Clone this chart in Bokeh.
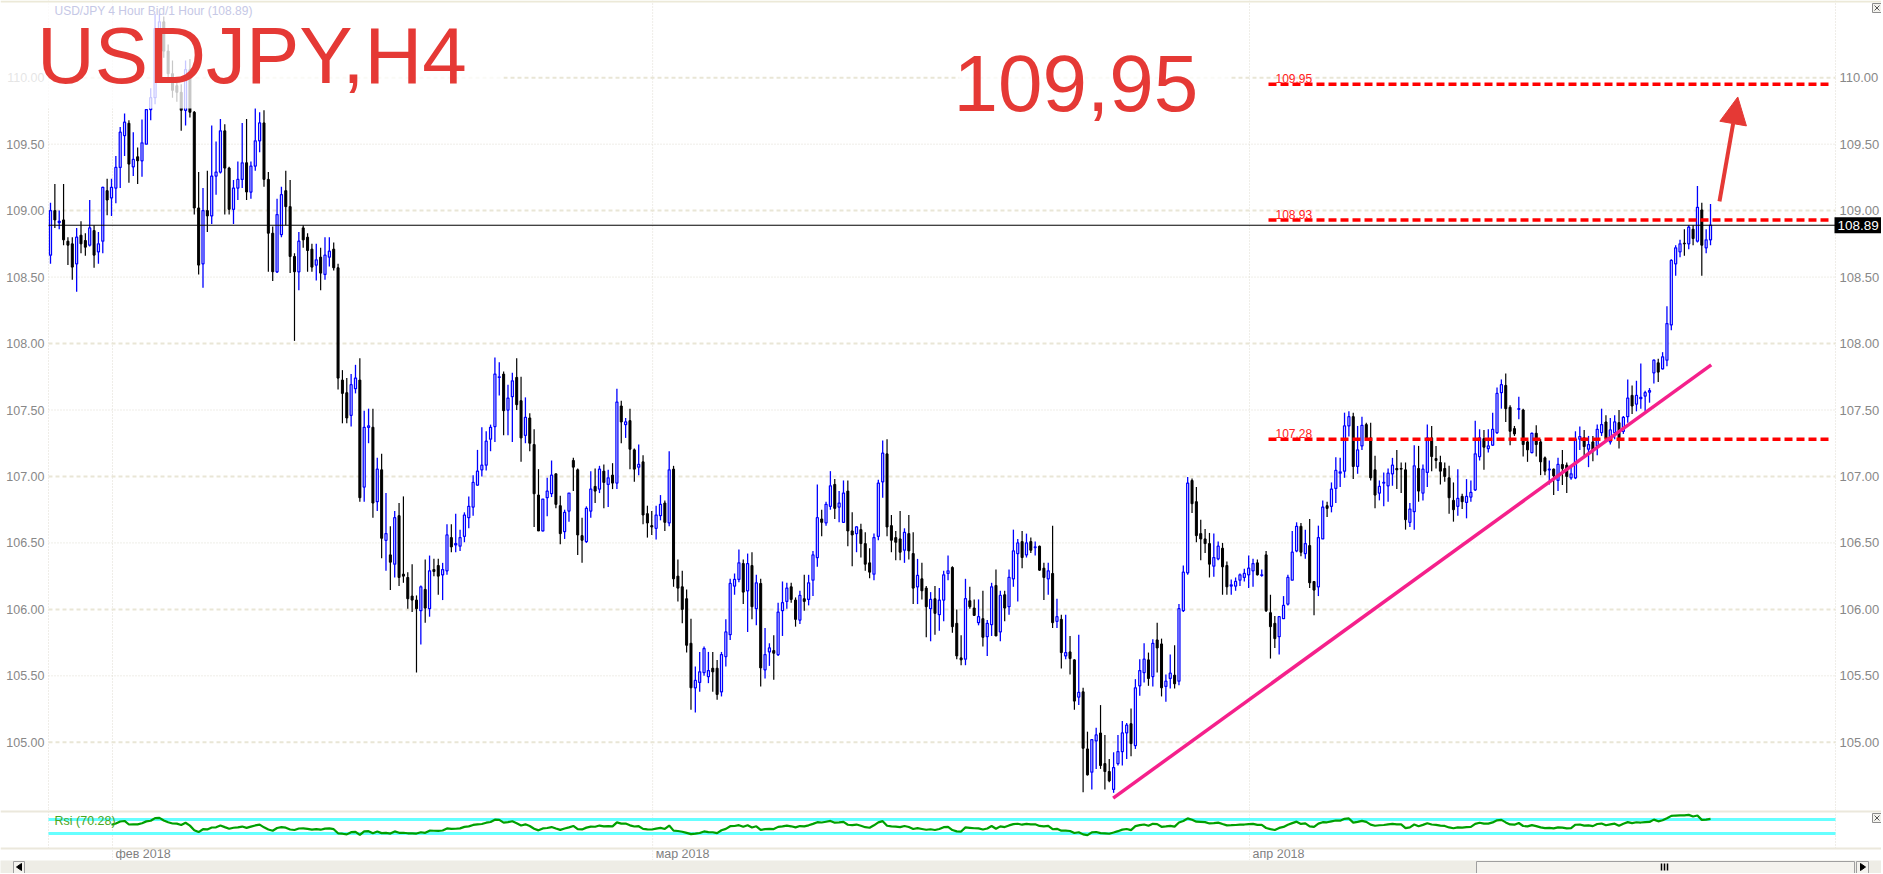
import numpy as np
from bokeh.core.properties import value
from bokeh.embed import file_html
from bokeh.layouts import column
from bokeh.models import (Arrow, ColumnDataSource, Grid, Label, NormalHead, Range1d, Span)
from bokeh.plotting import figure
from bokeh.resources import INLINE

# USDJPY 4H candles, 29 Jan - 24 Apr 2018
open_ = [
    108.665, 109.00, 108.91, 108.93, 108.77, 108.75, 108.60, 108.815, 108.775, 108.74,
    108.85, 108.69, 108.77, 109.15, 109.095, 109.17, 109.325, 109.565, 109.657, 109.33,
    109.405, 109.375, 109.50, 109.76, 109.85, 110.37, 110.42, 110.20, 110.03, 109.94,
    109.89, 109.755, 110.06, 109.74, 109.02, 108.60, 109.00, 108.96, 109.26, 109.29,
    109.60, 109.32, 109.01, 109.17, 109.235, 109.36, 109.14, 109.335, 109.525, 109.66,
    109.235, 108.83, 108.54, 108.82, 109.15, 109.03, 108.655, 108.54, 108.87, 108.80,
    108.71, 108.59, 108.65, 108.52, 108.65, 108.71, 108.57, 107.725, 107.63, 107.46,
    107.66, 107.725, 106.92, 107.37, 107.37, 106.81, 107.05, 106.52, 106.41, 106.34,
    106.705, 106.265, 106.24, 106.10, 106.07, 105.99, 106.15, 106.005, 106.30, 106.33,
    106.26, 106.29, 106.54, 106.485, 106.475, 106.55, 106.69, 106.77, 106.935, 107.05,
    107.085, 107.28, 107.375, 107.745, 107.77, 107.50, 107.60, 107.745, 107.57, 107.31,
    107.44, 107.24, 106.86, 106.59, 106.84, 106.87, 107.02, 106.78, 106.585, 106.74,
    107.12, 107.05, 106.555, 106.51, 106.74, 106.925, 106.905, 107.04, 106.94, 107.01,
    106.95, 107.53, 107.39, 107.42, 107.20, 107.07, 107.11, 106.72, 106.63, 106.61,
    106.705, 106.80, 106.65, 107.055, 106.25, 106.17, 106.08, 105.745, 105.41, 105.45,
    105.525, 105.495, 105.557, 105.557, 105.38, 105.645, 105.81, 106.175, 106.225, 106.345,
    106.14, 106.33, 106.005, 106.195, 105.545, 105.68, 105.69, 105.66, 105.99, 106.06,
    106.17, 106.07, 105.92, 106.08, 106.075, 106.22, 106.39, 106.68, 106.65, 106.775,
    106.94, 106.77, 106.655, 106.89, 106.59, 106.57, 106.60, 106.495, 106.35, 106.265,
    106.55, 106.96, 107.17, 106.63, 106.54, 106.53, 106.445, 106.57, 106.42, 106.17,
    106.23, 106.16, 106.005, 106.08, 105.96, 106.07, 106.27, 106.315, 105.895, 105.635,
    105.625, 106.065, 106.01, 105.90, 105.93, 105.795, 105.885, 106.18, 105.83, 106.11,
    106.02, 106.23, 106.42, 106.51, 106.41, 106.51, 106.465, 106.475, 106.31, 106.23,
    106.27, 105.91, 105.925, 105.65, 105.68, 105.62, 105.34, 105.38, 104.95, 104.775,
    105.01, 105.07, 104.84, 104.78, 104.645, 104.84, 104.93, 105.07, 105.14, 104.975,
    105.425, 105.525, 105.62, 105.495, 105.77, 105.74, 105.42, 105.48, 105.505, 105.46,
    105.99, 106.275, 106.97, 106.81, 106.57, 106.53, 106.495, 106.325, 106.38, 106.46,
    106.33, 106.175, 106.175, 106.22, 106.24, 106.26, 106.29, 106.35, 106.255, 106.41,
    105.975, 105.895, 105.795, 105.93, 106.04, 106.22, 106.44, 106.625, 106.42, 106.48,
    106.21, 106.17, 106.53, 106.78, 106.775, 106.91, 107.025, 107.04, 107.38, 107.45,
    107.075, 107.23, 107.39, 107.29, 107.05, 106.875, 106.95, 106.93, 107.02, 107.06,
    107.06, 107.05, 106.655, 106.735, 107.06, 106.875, 107.03, 107.29, 107.135, 107.105,
    107.06, 106.99, 106.82, 106.775, 106.85, 106.805, 106.845, 106.90, 107.15, 107.285,
    107.21, 107.235, 107.33, 107.63, 107.685, 107.52, 107.36, 107.505, 107.50, 107.26,
    107.18, 107.325, 107.26, 107.14, 107.05, 107.055, 106.97, 107.09, 107.085, 106.99,
    106.99, 107.28, 107.29, 107.205, 107.26, 107.23, 107.33, 107.41, 107.26, 107.33,
    107.405, 107.34, 107.45, 107.61, 107.545, 107.585, 107.605, 107.635, 107.78, 107.855,
    107.81, 107.875, 108.14, 108.60, 108.69, 108.755, 108.75, 108.86, 108.77, 109.005,
    108.72, 108.78,
]
high = [
    109.06, 109.20, 109.00, 109.20, 108.80, 108.80, 108.87, 108.92, 108.83, 109.08,
    108.89, 108.84, 109.18, 109.24, 109.24, 109.41, 109.63, 109.73, 109.68, 109.59,
    109.475, 109.685, 109.76, 109.92, 110.48, 110.48, 110.46, 110.25, 110.13, 110.00,
    109.95, 110.13, 110.14, 109.75, 109.29, 109.17, 109.30, 109.64, 109.52, 109.69,
    109.65, 109.33, 109.23, 109.37, 109.66, 109.69, 109.37, 109.77, 109.74, 109.755,
    109.29, 108.88, 109.09, 109.18, 109.30, 109.23, 108.68, 108.84, 108.89, 108.83,
    108.75, 108.75, 108.72, 108.80, 108.80, 108.76, 108.60, 107.80, 107.74, 107.77,
    107.84, 107.89, 107.495, 107.51, 107.51, 107.14, 107.17, 106.875, 106.625, 106.74,
    106.80, 106.85, 106.28, 106.34, 106.105, 106.18, 106.375, 106.405, 106.38, 106.38,
    106.35, 106.64, 106.64, 106.72, 106.60, 106.73, 106.85, 107.01, 107.20, 107.37,
    107.34, 107.39, 107.895, 107.86, 107.79, 107.69, 107.78, 107.89, 107.75, 107.595,
    107.475, 107.355, 107.055, 106.83, 106.99, 107.12, 107.02, 106.855, 106.75, 106.875,
    107.14, 107.06, 106.69, 106.775, 107.04, 107.06, 107.08, 107.09, 107.05, 107.10,
    107.66, 107.57, 107.44, 107.51, 107.21, 107.24, 107.16, 106.78, 106.74, 106.78,
    106.86, 106.82, 107.19, 107.08, 106.375, 106.29, 106.15, 105.93, 105.57, 105.68,
    105.72, 105.68, 105.68, 105.62, 105.68, 105.925, 106.23, 106.27, 106.45, 106.375,
    106.42, 106.43, 106.26, 106.23, 105.86, 105.745, 105.805, 106.05, 106.21, 106.20,
    106.20, 106.09, 106.14, 106.26, 106.26, 106.44, 106.94, 106.75, 106.81, 107.04,
    106.98, 106.89, 106.97, 106.97, 106.73, 106.625, 106.645, 106.58, 106.46, 106.57,
    106.975, 107.27, 107.28, 106.71, 106.59, 106.74, 106.61, 106.71, 106.58, 106.38,
    106.35, 106.175, 106.13, 106.175, 106.16, 106.29, 106.405, 106.325, 106.00, 105.805,
    106.23, 106.17, 106.075, 106.075, 106.14, 105.92, 106.20, 106.30, 106.14, 106.14,
    106.30, 106.60, 106.53, 106.59, 106.57, 106.54, 106.51, 106.48, 106.35, 106.35,
    106.63, 106.08, 105.96, 105.96, 105.80, 105.625, 105.81, 105.41, 105.08, 105.02,
    105.11, 105.28, 105.055, 104.875, 104.925, 105.055, 105.16, 105.145, 105.255, 105.475,
    105.625, 105.745, 105.675, 105.775, 105.90, 105.78, 105.51, 105.66, 105.73, 106.04,
    106.33, 106.995, 106.985, 106.92, 106.675, 106.605, 106.575, 106.57, 106.51, 106.50,
    106.36, 106.225, 106.24, 106.27, 106.305, 106.405, 106.38, 106.375, 106.30, 106.44,
    106.11, 105.95, 105.95, 106.10, 106.26, 106.59, 106.655, 106.65, 106.60, 106.68,
    106.21, 106.63, 106.82, 106.81, 106.955, 107.145, 107.14, 107.48, 107.49, 107.48,
    107.38, 107.45, 107.405, 107.405, 107.155, 106.97, 107.03, 107.06, 107.14, 107.20,
    107.105, 107.105, 106.80, 107.235, 107.23, 107.09, 107.39, 107.38, 107.23, 107.155,
    107.105, 107.08, 106.955, 107.055, 106.87, 106.98, 106.97, 107.42, 107.355, 107.35,
    107.355, 107.48, 107.67, 107.73, 107.775, 107.535, 107.38, 107.60, 107.51, 107.27,
    107.33, 107.385, 107.28, 107.15, 107.12, 107.06, 107.14, 107.20, 107.105, 107.07,
    107.34, 107.375, 107.35, 107.305, 107.305, 107.39, 107.51, 107.46, 107.44, 107.46,
    107.50, 107.455, 107.73, 107.685, 107.72, 107.85, 107.645, 107.665, 107.88, 107.885,
    107.935, 108.28, 108.635, 108.74, 108.78, 108.86, 108.89, 108.89, 109.185, 109.06,
    108.86, 109.05,
]
low = [
    108.60, 108.87, 108.86, 108.74, 108.59, 108.48, 108.39, 108.68, 108.66, 108.73,
    108.57, 108.60, 108.68, 108.965, 108.96, 109.055, 109.17, 109.41, 109.21, 109.26,
    109.20, 109.255, 109.50, 109.68, 109.80, 110.30, 110.15, 109.96, 109.85, 109.82,
    109.60, 109.64, 109.70, 108.97, 108.52, 108.42, 108.84, 108.90, 109.12, 109.28,
    108.97, 108.97, 108.90, 109.08, 109.17, 109.08, 109.09, 109.30, 109.44, 109.18,
    108.54, 108.47, 108.53, 108.80, 108.89, 108.53, 108.02, 108.40, 108.72, 108.54,
    108.54, 108.475, 108.40, 108.48, 108.58, 108.55, 107.655, 107.40, 107.40, 107.375,
    107.625, 106.81, 106.81, 107.25, 106.69, 106.74, 106.385, 106.29, 106.145, 106.24,
    106.175, 106.20, 106.005, 105.98, 105.525, 105.735, 105.90, 105.945, 106.25, 106.11,
    106.07, 106.26, 106.43, 106.43, 106.44, 106.505, 106.61, 106.705, 106.93, 107.00,
    107.045, 107.19, 107.26, 107.61, 107.31, 107.31, 107.26, 107.50, 107.11, 107.25,
    107.19, 106.62, 106.59, 106.585, 106.70, 106.845, 106.76, 106.49, 106.53, 106.66,
    106.89, 106.41, 106.35, 106.50, 106.69, 106.80, 106.875, 106.76, 106.77, 106.905,
    106.905, 107.25, 107.29, 107.055, 106.96, 107.01, 106.64, 106.54, 106.56, 106.525,
    106.67, 106.59, 106.625, 106.17, 106.06, 105.895, 105.675, 105.245, 105.225, 105.38,
    105.50, 105.445, 105.38, 105.32, 105.345, 105.57, 105.77, 106.11, 106.205, 106.04,
    105.83, 105.925, 105.88, 105.42, 105.48, 105.575, 105.47, 105.65, 105.80, 106.005,
    106.05, 105.87, 105.89, 105.99, 106.03, 106.10, 106.32, 106.55, 106.63, 106.75,
    106.68, 106.655, 106.65, 106.475, 106.325, 106.43, 106.39, 106.29, 106.235, 106.22,
    106.52, 106.84, 106.55, 106.43, 106.37, 106.37, 106.35, 106.375, 106.04, 106.04,
    106.075, 105.79, 105.76, 105.81, 105.84, 105.91, 106.22, 105.825, 105.625, 105.58,
    105.58, 106.005, 105.95, 105.88, 105.72, 105.65, 105.80, 105.80, 105.76, 105.91,
    105.96, 106.17, 106.06, 106.31, 106.39, 106.425, 106.405, 106.29, 106.07, 106.11,
    105.86, 105.86, 105.555, 105.625, 105.51, 105.245, 105.28, 104.625, 104.75, 104.645,
    104.80, 104.80, 104.645, 104.70, 104.62, 104.825, 104.825, 104.875, 104.895, 104.95,
    105.35, 105.45, 105.425, 105.42, 105.525, 105.345, 105.305, 105.405, 105.405, 105.43,
    105.98, 106.26, 106.725, 106.505, 106.37, 106.425, 106.24, 106.245, 106.37, 106.11,
    106.11, 106.11, 106.14, 106.175, 106.21, 106.16, 106.17, 106.255, 106.245, 105.98,
    105.63, 105.71, 105.66, 105.93, 106.03, 106.22, 106.43, 106.40, 106.38, 106.16,
    105.955, 106.10, 106.53, 106.695, 106.73, 106.80, 106.92, 106.99, 107.30, 106.98,
    107.02, 107.20, 107.27, 106.97, 106.76, 106.82, 106.775, 106.81, 106.93, 106.905,
    106.875, 106.60, 106.62, 106.60, 106.81, 106.82, 106.92, 107.04, 107.06, 106.94,
    106.96, 106.72, 106.66, 106.705, 106.755, 106.685, 106.81, 106.89, 107.12, 107.05,
    107.18, 107.23, 107.32, 107.51, 107.41, 107.235, 107.305, 107.43, 107.15, 107.11,
    107.175, 107.15, 107.01, 107.01, 106.94, 106.86, 106.89, 106.935, 106.875, 106.975,
    106.98, 107.20, 107.14, 107.07, 107.115, 107.16, 107.305, 107.26, 107.24, 107.28,
    107.21, 107.32, 107.405, 107.47, 107.49, 107.51, 107.49, 107.555, 107.70, 107.71,
    107.805, 107.83, 108.10, 108.51, 108.65, 108.66, 108.71, 108.74, 108.76, 108.51,
    108.68, 108.74,
]
close = [
    109.00, 108.93, 108.92, 108.78, 108.74, 108.575, 108.80, 108.75, 108.725, 108.87,
    108.665, 108.75, 109.175, 109.08, 109.175, 109.325, 109.59, 109.665, 109.35, 109.385,
    109.375, 109.51, 109.76, 109.85, 110.37, 110.42, 110.20, 110.03, 109.905, 109.89,
    109.755, 110.06, 109.74, 109.02, 108.59, 109.00, 108.96, 109.26, 109.29, 109.60,
    109.32, 109.01, 109.17, 109.235, 109.36, 109.14, 109.335, 109.525, 109.66, 109.235,
    108.83, 108.54, 108.97, 109.12, 109.03, 108.655, 108.54, 108.77, 108.78, 108.70,
    108.575, 108.63, 108.53, 108.665, 108.695, 108.57, 107.74, 107.625, 107.44, 107.69,
    107.74, 106.84, 107.37, 107.38, 106.80, 107.055, 106.535, 106.57, 106.355, 106.69,
    106.24, 106.25, 106.08, 106.07, 106.005, 106.17, 106.01, 106.29, 106.285, 106.25,
    106.30, 106.56, 106.47, 106.495, 106.54, 106.71, 106.775, 106.955, 107.04, 107.085,
    107.265, 107.37, 107.77, 107.75, 107.495, 107.59, 107.72, 107.54, 107.29, 107.445,
    107.25, 106.87, 106.59, 106.83, 106.89, 107.01, 106.79, 106.57, 106.73, 106.875,
    107.07, 106.56, 106.52, 106.76, 106.905, 106.89, 107.055, 106.955, 106.99, 106.95,
    107.56, 107.41, 107.41, 107.205, 107.055, 107.09, 106.71, 106.65, 106.62, 106.71,
    106.79, 106.655, 107.05, 106.23, 106.16, 106.00, 105.73, 105.41, 105.465, 105.53,
    105.705, 105.54, 105.53, 105.36, 105.66, 105.83, 106.195, 106.225, 106.35, 106.13,
    106.345, 106.02, 106.20, 105.56, 105.66, 105.71, 105.67, 105.98, 106.05, 106.16,
    106.075, 105.925, 106.105, 106.06, 106.20, 106.41, 106.69, 106.655, 106.79, 106.93,
    106.76, 106.80, 106.875, 106.59, 106.56, 106.62, 106.495, 106.34, 106.28, 106.54,
    106.95, 107.175, 106.62, 106.52, 106.505, 106.43, 106.58, 106.44, 106.16, 106.255,
    106.14, 106.02, 106.075, 105.97, 106.07, 106.26, 106.29, 105.87, 105.65, 105.62,
    106.08, 106.02, 105.955, 105.945, 105.79, 105.895, 106.17, 105.80, 106.105, 106.01,
    106.24, 106.44, 106.50, 106.39, 106.50, 106.445, 106.47, 106.295, 106.24, 106.29,
    105.90, 105.945, 105.675, 105.675, 105.63, 105.31, 105.375, 104.955, 104.755, 105.02,
    105.055, 104.825, 104.78, 104.71, 104.81, 104.93, 105.07, 105.13, 104.99, 105.41,
    105.54, 105.625, 105.48, 105.745, 105.71, 105.41, 105.46, 105.52, 105.44, 106.005,
    106.28, 106.95, 106.795, 106.555, 106.53, 106.495, 106.34, 106.39, 106.475, 106.32,
    106.17, 106.185, 106.21, 106.26, 106.27, 106.31, 106.345, 106.26, 106.26, 105.99,
    105.87, 105.78, 105.945, 106.03, 106.24, 106.43, 106.625, 106.43, 106.495, 106.20,
    106.145, 106.54, 106.77, 106.76, 106.905, 107.045, 107.035, 107.38, 107.45, 107.075,
    107.20, 107.385, 107.29, 106.99, 106.86, 106.925, 106.955, 107.025, 107.085, 107.05,
    107.055, 106.675, 106.755, 107.08, 106.89, 107.055, 107.29, 107.15, 107.12, 107.04,
    107.00, 106.84, 106.75, 106.835, 106.81, 106.85, 106.88, 107.17, 107.29, 107.22,
    107.23, 107.355, 107.625, 107.69, 107.51, 107.34, 107.32, 107.51, 107.24, 107.20,
    107.325, 107.24, 107.11, 107.04, 107.055, 107.005, 107.09, 107.06, 107.00, 107.02,
    107.28, 107.30, 107.225, 107.24, 107.19, 107.355, 107.39, 107.285, 107.35, 107.41,
    107.28, 107.445, 107.59, 107.53, 107.61, 107.595, 107.63, 107.645, 107.875, 107.785,
    107.90, 108.15, 108.625, 108.72, 108.75, 108.75, 108.875, 108.79, 109.025, 108.74,
    108.78, 108.89,
]

month_ticks = [14.23, 138.2, 275.2]          # bar index of 1 Feb, 1 Mar, 1 Apr
month_labels = ["фев 2018", "мар 2018", "апр 2018"]
price_ticks = [105.0, 105.5, 106.0, 106.5, 107.0, 107.5, 108.0, 108.5, 109.0, 109.5, 110.0]
levels = [109.95, 108.93, 107.28]
level_names = ["109.95", "108.93", "107.28"]
level_from, level_to = 279.55, 408.5
last_price = 108.89
trend_x = [243.9, 381.16]
trend_y = [104.58, 107.84]
arrow_x = [383.06, 387.26]
arrow_y = [109.07, 109.855]
rsi_period = 14
rsi_levels = [70, 30]

# pixel geometry of the terminal window
W = 1881
BAR = 4.357          # px per bar
PPU = 132.92         # px per yen
RED = "#e53935"
GRID = "#dedbd0"
FONT = "Liberation Sans"


def bx(px):
    return (px - 50) / BAR


def py(px):
    return 110 - (px - 77.2) / PPU


def ry(px):
    return 70 - (px - 819) / 0.35


def wilder_rsi(values, n):
    c = np.asarray(values, dtype=float)
    d = np.diff(c)
    up = np.clip(d, 0, None)
    dn = np.clip(-d, 0, None)
    out = np.full(len(c), np.nan)
    ag, al = up[:n].mean(), dn[:n].mean()
    out[n] = 100 - 100 / (1 + ag / al)
    for k in range(n, len(d)):
        ag = (ag * (n - 1) + up[k]) / n
        al = (al * (n - 1) + dn[k]) / n
        out[k + 1] = 100 - 100 / (1 + ag / al)
    return out


def pane(height, x_range, y_range, bg="white"):
    f = figure(frame_width=W, frame_height=height, x_range=x_range, y_range=y_range,
               x_axis_location=None, y_axis_location=None,
               output_backend="svg", toolbar_location=None, min_border=0,
               outline_line_color=None, background_fill_color=bg, border_fill_color="white")
    for g in f.select(type=Grid):
        g.visible = False
    return f


def txt(f, x, y, text, size="13px", color="#888888", align="left", **kw):
    f.text(x=x, y=y, text=text, text_font=value(FONT), text_font_size=value(size),
           text_color=color, text_align=align, text_baseline="middle", **kw)


def close_box(f, x0, y0, yconv):
    f.quad(left=[bx(x0)], right=[bx(x0 + 9)], top=[yconv(y0)], bottom=[yconv(y0 + 9)],
           fill_color="#f4f3ee", line_color="#8c8c8c", line_width=1)
    f.segment(x0=[bx(x0 + 2), bx(x0 + 2)], x1=[bx(x0 + 7), bx(x0 + 7)],
              y0=[yconv(y0 + 2), yconv(y0 + 7)], y1=[yconv(y0 + 7), yconv(y0 + 2)],
              line_color="#555555", line_width=1)


idx = np.arange(len(close))
o = np.array(open_)
h = np.array(high)
l = np.array(low)
c = np.array(close)
bull = c >= o
xr = (bx(0), bx(0) + W / BAR)

# ---------------- price pane ----------------
p = pane(808, Range1d(*xr), Range1d(py(808), py(0)))

whole = [t for t in price_ticks if t % 1 == 0]
half = [t for t in price_ticks if t % 1 != 0]
p.segment(x0=[bx(48)] * len(whole), x1=[bx(1835)] * len(whole), y0=whole, y1=whole,
          line_color="#e9e6d6", line_width=2, line_dash="4 3")
p.segment(x0=[bx(48)] * len(half), x1=[bx(1835)] * len(half), y0=half, y1=half,
          line_color=GRID, line_width=1, line_dash="1 2")
for t in month_ticks + [bx(48), bx(1835)]:
    p.add_layout(Span(location=t, dimension="height", line_color=GRID,
                      line_width=1, line_dash="1 2", level="underlay"))
p.add_layout(Span(location=py(1), dimension="width", line_color="#ece9d8", line_width=2))

tick_text = ["%.2f" % t for t in price_ticks]
txt(p, [bx(44)] * len(price_ticks), price_ticks, tick_text, size="12.5px", align="right")
txt(p, [bx(1839)] * len(price_ticks), price_ticks, tick_text)

up_src = ColumnDataSource(dict(x=idx[bull], o=o[bull], h=h[bull], l=l[bull], c=c[bull]))
dn_src = ColumnDataSource(dict(x=idx[~bull], o=o[~bull], h=h[~bull], l=l[~bull], c=c[~bull]))
p.segment(x0="x", y0="h", x1="x", y1="l", source=up_src, line_color="#0000ff", line_width=1.3)
p.segment(x0="x", y0="h", x1="x", y1="l", source=dn_src, line_color="black", line_width=1.2)
p.vbar(x="x", width=0.46, top="c", bottom="o", source=up_src,
       fill_color="white", line_color="#0000ff", line_width=1.25)
p.vbar(x="x", width=0.46, top="o", bottom="c", source=dn_src,
       fill_color="black", line_color="black", line_width=1)

# translucent backgrounds of the two big captions
p.quad(left=[bx(0), bx(958)], right=[bx(503), bx(1230)],
       top=[py(2), py(2)], bottom=[py(108), py(137)],
       fill_color="white", fill_alpha=0.78, line_color=None)

p.segment(x0=[bx(48)], x1=[bx(1835)], y0=[last_price], y1=[last_price],
          line_color="black", line_width=1)
p.quad(left=[bx(1834)], right=[bx(1884)], top=[last_price + 8 / PPU],
       bottom=[last_price - 8 / PPU], fill_color="black", line_color=None)
txt(p, [bx(1837)], [last_price], ["%.2f" % last_price], size="13.5px", color="white")

p.segment(x0=[level_from] * 3, x1=[level_to] * 3, y0=levels, y1=levels,
          line_color="#ff0000", line_width=3.5, line_dash="8 4")
txt(p, [bx(1275)] * 3, [v + 5.6 / PPU for v in levels], level_names,
    size="12px", color="#ff2020")

p.line(trend_x, trend_y, line_color="#f5208b", line_width=3.5)

p.add_layout(Arrow(end=NormalHead(size=27, fill_color=RED, line_color=RED),
                   x_start=arrow_x[0], y_start=arrow_y[0], x_end=arrow_x[1], y_end=arrow_y[1],
                   line_color=RED, line_width=4))

close_box(p, 1872, 3, py)

p.add_layout(Label(x=bx(54), y=py(10), text="USD/JPY 4 Hour Bid/1 Hour (108.89)",
                   text_font=FONT, text_font_size="12px", text_color="#c6c8e6",
                   text_baseline="middle"))
p.add_layout(Label(x=bx(36.5), y=py(54.5), text="USDJPY,H4", text_font=FONT,
                   text_font_size="80px", text_color=RED, text_baseline="middle"))
p.add_layout(Label(x=bx(953), y=py(82.7), text="109,95", text_font=FONT,
                   text_font_size="80px", text_color=RED, text_baseline="middle"))

# ---------------- RSI pane + dates ----------------
rsi = wilder_rsi(close, rsi_period)
r = pane(52, Range1d(*xr), Range1d(ry(860), ry(808)))
for y in (ry(811), ry(848)):
    r.add_layout(Span(location=y, dimension="width", line_color="#ebe8dc", line_width=2))
for t in month_ticks:
    r.add_layout(Span(location=t, dimension="height", line_color=GRID,
                      line_width=1, line_dash="1 2", level="underlay"))
r.segment(x0=[bx(48), bx(1835)], x1=[bx(48), bx(1835)],
          y0=[ry(848)] * 2, y1=[ry(808)] * 2, line_color=GRID, line_dash="1 2")
r.segment(x0=[bx(48)] * 2, x1=[bx(1835)] * 2, y0=rsi_levels, y1=rsi_levels,
          line_color="#66ffff", line_width=3)
r.line(idx, rsi, line_color="#00a000", line_width=2.2)
txt(r, [bx(54)], [ry(820)], ["Rsi (70.28)"], size="12.5px", color="#4aa81c")
txt(r, [t + 3 / BAR for t in month_ticks], [ry(853.5)] * 3, month_labels,
    size="12.5px", color="#7f7f7f")
close_box(r, 1872, 813, ry)

# ---------------- scroll bar strip ----------------
s = pane(13, Range1d(0, W), Range1d(873, 860), bg="#eeede6")
s.quad(left=[1476, 1856, 13], right=[1854, 1868, 24], top=[861, 861, 861],
       bottom=[873, 873, 873], fill_color="#f4f3ee", line_color="#9f9f9f", line_width=1)
s.segment(x0=[1661, 1664, 1667], x1=[1661, 1664, 1667], y0=[863] * 3, y1=[870] * 3,
          line_color="black", line_width=1.5)
s.patches(xs=[[1860, 1860, 1865], [21, 21, 16]], ys=[[863, 870, 866.5], [863, 870, 866.5]],
          fill_color="black", line_color="black")

layout = column(p, r, s, spacing=0)
open("out.html", "w").write(file_html(layout, INLINE, title="USDJPY,H4"))
